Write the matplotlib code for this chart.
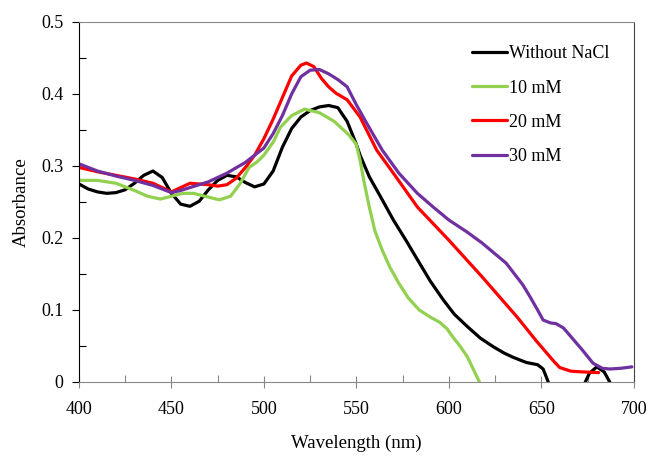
import numpy as np
import matplotlib
matplotlib.use('Agg')
import matplotlib.pyplot as plt
from matplotlib.ticker import MultipleLocator

plt.rcParams['font.family'] = ['Liberation Serif', 'DejaVu Serif']

# Without NaCl
wl_0 = [400, 405, 410, 415, 420, 425, 430, 435, 440, 445, 450, 455, 460, 465, 470, 475,
        480, 485, 490, 495, 500, 505, 510, 515, 520, 525, 530, 535, 540, 545, 550, 552,
        557, 564, 570, 577, 583, 590, 597, 603, 610, 617, 624, 630, 635, 642, 648, 651,
        653, 656, 660, 666, 672, 676, 680, 684, 687, 690]
abs_0 = [0.275, 0.268, 0.264, 0.262, 0.263, 0.267, 0.276, 0.287, 0.293, 0.284, 0.262,
         0.247, 0.244, 0.251, 0.267, 0.280, 0.287, 0.285, 0.277, 0.271, 0.275, 0.293,
         0.326, 0.352, 0.368, 0.377, 0.382, 0.384, 0.381, 0.362, 0.330, 0.315, 0.285,
         0.253, 0.225, 0.196, 0.170, 0.140, 0.114, 0.094, 0.077, 0.061, 0.049, 0.040,
         0.034, 0.027, 0.024, 0.018, 0.005, -0.015, -0.03, -0.03, -0.01, 0.012, 0.021,
         0.014, 0.0, -0.02]

# 10 mM
wl_10 = [400, 410, 420, 430, 437, 444, 450, 456, 462, 468, 476, 482, 487, 492, 496,
         500, 505, 509, 515, 522, 530, 538, 546, 550, 552, 554, 557, 560, 564, 568, 573,
         578, 584, 590, 595, 599, 602, 606, 610, 616, 620]
abs_10 = [0.280, 0.280, 0.276, 0.266, 0.258, 0.254, 0.258, 0.262, 0.262, 0.258, 0.253,
          0.258, 0.275, 0.298, 0.305, 0.315, 0.333, 0.354, 0.370, 0.379, 0.374, 0.362,
          0.343, 0.330, 0.308, 0.280, 0.243, 0.210, 0.183, 0.160, 0.137, 0.117, 0.100,
          0.090, 0.083, 0.074, 0.063, 0.050, 0.035, 0.003, -0.02]

# 20 mM
wl_20 = [400, 410, 420, 430, 440, 445, 450, 455, 460, 470, 475, 480, 485, 490, 495,
         500, 505, 510, 515, 520, 523, 527, 531, 535, 539, 545, 552, 561, 570, 583, 600,
         618, 637, 647, 653, 657, 660, 666, 672, 681]
abs_20 = [0.298, 0.292, 0.287, 0.282, 0.276, 0.270, 0.264, 0.270, 0.276, 0.274, 0.272,
          0.274, 0.283, 0.298, 0.315, 0.338, 0.365, 0.395, 0.425, 0.440, 0.443, 0.438,
          0.422, 0.410, 0.401, 0.392, 0.368, 0.322, 0.290, 0.243, 0.197, 0.146, 0.090,
          0.058, 0.040, 0.028, 0.020, 0.015, 0.014, 0.013]

# 30 mM
wl_30 = [400, 410, 420, 430, 440, 445, 450, 455, 460, 470, 480, 490, 500, 505, 510,
         515, 520, 525, 530, 535, 540, 545, 550, 555, 564, 573, 583, 592, 600, 610, 618,
         631, 640, 644, 648, 651, 655, 658, 662, 666, 672, 678, 683, 687, 693, 699]
abs_30 = [0.303, 0.293, 0.286, 0.280, 0.273, 0.268, 0.263, 0.266, 0.270, 0.278, 0.290,
          0.305, 0.325, 0.345, 0.370, 0.400, 0.424, 0.433, 0.434, 0.428, 0.420, 0.410,
          0.385, 0.362, 0.322, 0.290, 0.262, 0.242, 0.225, 0.208, 0.193, 0.165, 0.135,
          0.118, 0.100, 0.086, 0.082, 0.081, 0.075, 0.063, 0.045, 0.026, 0.019, 0.018,
          0.019, 0.021]

series = [
    ('Without NaCl', wl_0, abs_0, '#000000'),
    ('10 mM', wl_10, abs_10, '#92D050'),
    ('20 mM', wl_20, abs_20, '#FF0000'),
    ('30 mM', wl_30, abs_30, '#7030A0'),
]

fig = plt.figure(figsize=(6.5, 4.58), dpi=100)
ax = fig.add_axes([0.1215, 0.166, 0.8535, 0.786])

for label, x, y, c in series:
    ax.plot(x, y, color=c, lw=2.3, label=label, solid_capstyle='round',
            solid_joinstyle='round')

ax.set_xlim(400, 700)
ax.set_ylim(0, 0.5)
ax.xaxis.set_major_locator(MultipleLocator(50))
ax.xaxis.set_minor_locator(MultipleLocator(25))
ax.yaxis.set_minor_locator(MultipleLocator(0.05))
ax.set_yticks([0, 0.1, 0.2, 0.3, 0.4, 0.5])
ax.set_yticklabels(['0', '0.1', '0.2', '0.3', '0.4', '0.5'])

ax.tick_params(axis='x', which='major', direction='inout', length=8, width=0.8,
               color='#888888', labelsize=13, pad=10)
ax.tick_params(axis='x', which='minor', direction='in', length=5, width=0.8,
               color='#888888')
ax.tick_params(axis='y', which='major', direction='out', length=5, width=0.8,
               labelsize=13, pad=6)
ax.tick_params(axis='y', which='minor', direction='in', length=5, width=0.8)

ax.spines['left'].set_color('black')
ax.spines['bottom'].set_color('#888888')
ax.spines['top'].set_color('#888888')
ax.spines['right'].set_color('#444444')
for s in ax.spines.values():
    s.set_linewidth(0.8)

ax.set_xlabel('Wavelength (nm)', fontsize=13.5, labelpad=12)
ax.set_ylabel('Absorbance', fontsize=13.5, labelpad=8)

ax.legend(loc='upper left', bbox_to_anchor=(0.68, 0.98), frameon=False,
          fontsize=13, handlelength=1.9, handletextpad=0.15, labelspacing=0.95)

fig.savefig('out.png', dpi=100)
